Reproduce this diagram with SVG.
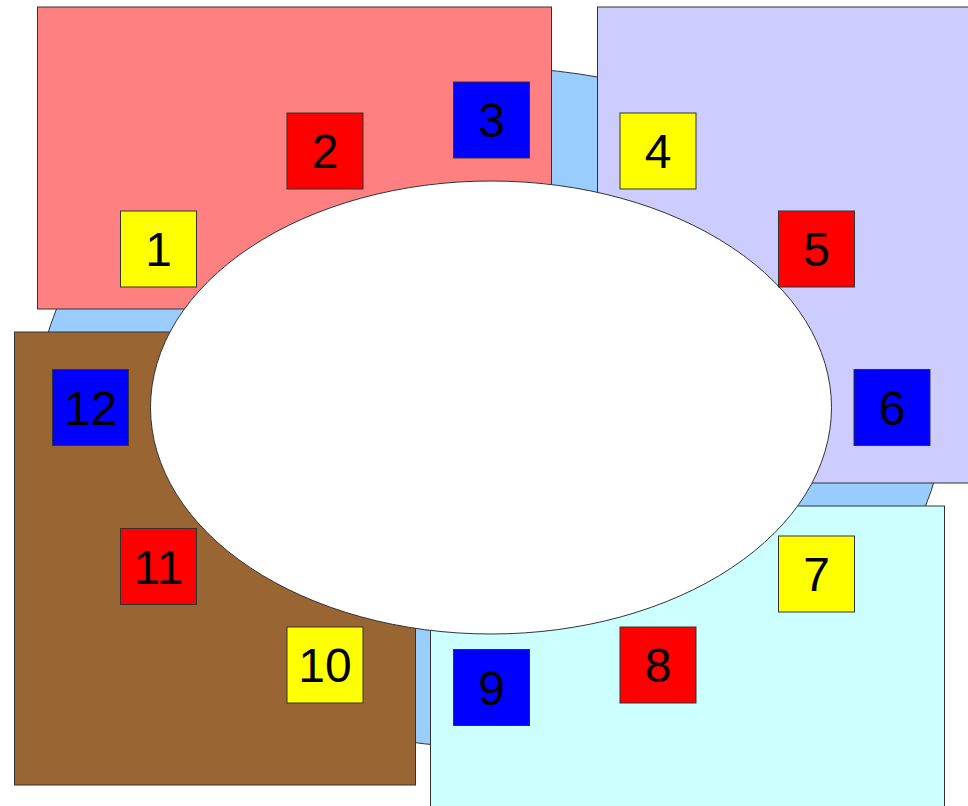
<svg xmlns="http://www.w3.org/2000/svg" width="968" height="806" viewBox="0 0 968 806">
<style>
.sh{stroke:#333;stroke-width:1}
.sq{stroke:#333;stroke-width:1}
.y{fill:#ffff00}.r{fill:#ff0000}.b{fill:#0000ff}
text{font-family:"Liberation Sans",Arial,sans-serif;font-size:48px;fill:#000;text-anchor:middle}
</style>
<rect width="968" height="806" fill="#fff"/>
<g id="ring"><ellipse class="sh" cx="491" cy="407.5" rx="454" ry="340" fill="#99ccff"/></g>
<g id="quad-red"><rect class="sh" x="37.5" y="7" width="514" height="302" fill="#ff8080"/></g>
<g id="quad-lavender"><rect class="sh" x="597.5" y="7" width="380" height="476" fill="#ccccff"/></g>
<g id="quad-cyan"><rect class="sh" x="430.5" y="506" width="514" height="310" fill="#ccffff"/></g>
<g id="quad-brown"><rect class="sh" x="14.5" y="332" width="401" height="453" fill="#996633"/></g>
<g id="center"><ellipse class="sh" cx="491" cy="407.5" rx="340.5" ry="226.5" fill="#fff"/></g>
<g id="connectors"></g>
<g id="n1"><rect class="sq y" x="120.5" y="211" width="76" height="76"/><text x="158.5" y="266">1</text></g>
<g id="n2"><rect class="sq r" x="287" y="113" width="76" height="76"/><text x="325" y="168">2</text></g>
<g id="n3"><rect class="sq b" x="453.5" y="82" width="76" height="76"/><text x="491.5" y="137">3</text></g>
<g id="n4"><rect class="sq y" x="620" y="113" width="76" height="76"/><text x="658" y="168">4</text></g>
<g id="n5"><rect class="sq r" x="778.5" y="211" width="76" height="76"/><text x="816.5" y="266">5</text></g>
<g id="n6"><rect class="sq b" x="854" y="369.5" width="76" height="76"/><text x="892" y="424.5">6</text></g>
<g id="n7"><rect class="sq y" x="778.5" y="536" width="76" height="76"/><text x="816.5" y="591">7</text></g>
<g id="n8"><rect class="sq r" x="620" y="627" width="76" height="76"/><text x="658" y="682">8</text></g>
<g id="n9"><rect class="sq b" x="453.5" y="649.5" width="76" height="76"/><text x="491.5" y="704.5">9</text></g>
<g id="n10"><rect class="sq y" x="287" y="627" width="76" height="76"/><text x="325" y="682">10</text></g>
<g id="n11"><rect class="sq r" x="120.5" y="528.5" width="76" height="76"/><text x="158.5" y="583.5">11</text></g>
<g id="n12"><rect class="sq b" x="52.5" y="369.5" width="76" height="76"/><text x="90.5" y="424.5">12</text></g>
</svg>
